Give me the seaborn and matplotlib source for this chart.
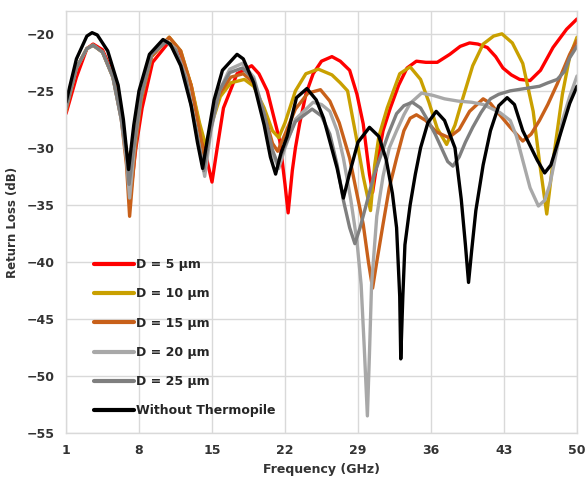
import matplotlib
matplotlib.use("Agg")
import matplotlib.pyplot as plt
import seaborn as sns
import pandas as pd

# ---------------- data ----------------
labels = ["D = 5 \u00b5m", "D = 10 \u00b5m", "D = 15 \u00b5m", "D = 20 \u00b5m",
          "D = 25 \u00b5m", "Without Thermopile"]
colors = ["#FF0000", "#C9A000", "#C8601A", "#A8A8A8", "#7F7F7F", "#000000"]

freq_d5 = [1, 2, 3, 3.6, 4.5, 5.5, 6.3, 6.8, 7.2, 7.7, 8.3, 9.3, 10.8, 12, 13, 14, 15.0, 15.5,
           16.1, 17.4, 18.8, 19.5, 20.3, 21.5, 22.0, 22.3, 22.7, 23.0, 23.4, 24.0, 24.7, 25.5,
           26.5, 27.3, 28.2, 28.9, 29.5, 30.1, 30.4, 30.8, 31.4, 32.1, 32.9, 33.7, 34.6, 35.5,
           36.6, 37.8, 38.8, 39.7, 40.5, 41.4, 42.2, 42.9, 43.7, 44.5, 45.5, 46.5, 47.7, 49.0, 50]
rl_d5 = [-27.0, -23.8, -21.3, -20.9, -21.4, -23.5, -27.0, -30.5, -34.0, -30.0, -26.5, -22.5,
         -20.8, -21.8, -24.5, -29.0, -33.0, -30.0, -26.5, -23.5, -22.8, -23.5, -25.0, -29.4,
         -33.2, -35.7, -32.0, -30.0, -27.9, -25.3, -23.5, -22.4, -22.0, -22.4, -23.2, -25.3,
         -27.9, -32.3, -33.9, -31.5, -28.5, -26.5, -24.5, -23.0, -22.4, -22.5, -22.5, -21.8,
         -21.1, -20.8, -20.9, -21.2, -22.0, -23.0, -23.6, -24.0, -24.1, -23.2, -21.2, -19.6, -18.7]

freq_d10 = [1, 2, 3, 3.6, 4.5, 5.5, 6.3, 7.0, 7.6, 8.2, 9.2, 10.9, 12, 13, 13.8, 14.4, 15.0,
            15.8, 16.8, 18.1, 19, 20, 20.8, 21.4, 22, 23, 24, 25.2, 26.5, 27.3, 28.0, 28.9,
            29.5, 30.2, 30.6, 31.0, 31.8, 33.0, 34.0, 35.0, 35.8, 36.6, 37.5, 38.3, 39.0, 40.0,
            41.0, 42.0, 42.8, 43.8, 44.8, 45.8, 46.4, 47.1, 47.7, 48.6, 49.3, 50]
rl_d10 = [-26.5, -23.0, -21.3, -21.0, -21.6, -23.8, -27.3, -31.5, -29.0, -25.8, -22.0, -20.3,
          -21.5, -24.5, -27.8, -29.8, -27.8, -25.5, -24.3, -24.0, -24.6, -26.5, -28.5, -29.1,
          -27.8, -25.0, -23.5, -23.1, -23.6, -24.3, -25.0, -29.4, -32.5, -35.5, -31.5, -29.0,
          -26.5, -23.5, -22.9, -24.0, -26.0, -28.3, -29.7, -28.0, -25.8, -22.8, -20.9, -20.2,
          -20.0, -20.8, -22.6, -26.8, -31.2, -35.8, -31.2, -25.3, -22.0, -20.3]

freq_d15 = [1, 2, 3, 3.6, 4.5, 5.5, 6.3, 6.8, 7.1, 7.6, 8.2, 9.2, 10.9, 12, 13, 13.8, 14.3,
            14.9, 15.7, 16.8, 18.0, 19, 20, 20.8, 21.3, 22, 23, 24.2, 25.4, 26.3, 27.2, 28.2,
            29.0, 29.5, 30.0, 30.4, 30.8, 31.4, 32.0, 32.7, 33.4, 34.0, 34.6, 35.5, 36.5, 37.7,
            38.7, 39.7, 41.0, 41.7, 42.5, 43.6, 44.8, 45.6, 46.4, 47.2, 48.1, 49.3, 50]
rl_d15 = [-26.8, -23.0, -21.3, -21.0, -21.6, -23.8, -27.5, -31.5, -36.0, -30.5, -25.8, -22.0,
          -20.3, -21.5, -24.6, -28.5, -31.0, -28.0, -25.3, -23.8, -23.5, -24.3, -27.0, -29.6,
          -30.3, -28.8, -26.6, -25.2, -24.9, -25.9, -27.8, -30.9, -34.5, -36.7, -40.0, -42.3,
          -40.0, -36.7, -33.5, -30.9, -28.5, -27.4, -27.1, -27.6, -28.6, -29.1, -28.4, -26.8,
          -25.7, -26.1, -27.0, -28.2, -29.4, -28.8, -27.6, -26.2, -24.4, -21.8, -20.6]

freq_d20 = [1, 2, 3, 3.6, 4.5, 5.5, 6.3, 6.8, 7.1, 7.6, 8.2, 9.2, 10.6, 11.5, 12.5, 13.5,
            14.3, 14.9, 15.7, 16.7, 17.9, 19, 20, 20.8, 21.4, 22, 23, 24.7, 25.5, 26.3, 27.0,
            27.6, 28.3, 28.9, 29.3, 29.6, 29.9, 30.1, 30.3, 30.8, 31.4, 32.0, 32.7, 33.4, 34.0,
            35.1, 36.2, 37.3, 38.6, 39.9, 41.0, 41.7, 42.6, 43.6, 44.2, 44.8, 45.5, 46.3, 46.9,
            47.4, 48.0, 48.6, 49.3, 50]
rl_d20 = [-26.5, -23.0, -21.3, -21.0, -21.6, -23.8, -27.5, -31.0, -34.4, -29.5, -25.5, -21.8,
          -20.6, -21.3, -23.8, -28.5, -32.5, -28.5, -25.0, -23.1, -22.6, -23.8, -27.0, -30.5,
          -31.8, -30.0, -27.5, -26.0, -26.2, -26.8, -28.5, -30.9, -34.5, -38.2, -42.0, -47.5,
          -53.5, -48.0, -42.0, -36.0, -32.5, -30.0, -28.5, -27.1, -26.1, -25.2, -25.4, -25.7,
          -25.9, -26.0, -26.2, -26.5, -26.9, -27.6, -29.0, -31.1, -33.5, -35.1, -34.6, -33.2,
          -30.5, -27.6, -25.5, -23.7]

freq_d25 = [1, 2, 3, 3.6, 4.5, 5.5, 6.3, 6.8, 7.05, 7.6, 8.2, 9.2, 10.6, 11.5, 12.5, 13.5,
            14.2, 14.9, 15.7, 16.7, 17.9, 19, 20, 20.8, 21.3, 22, 23, 24.6, 25.5, 26.3, 27.0,
            27.6, 28.2, 28.7, 29.2, 29.9, 30.5, 31.1, 31.9, 32.7, 33.4, 34.2, 35.0, 35.7, 36.4,
            37.0, 37.6, 38.1, 38.7, 39.3, 40.0, 40.8, 41.7, 42.5, 43.6, 45.0, 46.4, 47.2, 48.1,
            48.8, 49.3, 50]
rl_d25 = [-26.5, -23.0, -21.3, -21.0, -21.6, -23.8, -27.5, -30.5, -33.2, -29.3, -25.5, -21.8,
          -20.7, -21.4, -24.0, -28.5, -32.0, -28.3, -25.0, -23.4, -23.0, -24.0, -27.0, -30.2,
          -31.4, -29.8, -27.7, -26.6, -27.2, -28.8, -31.5, -34.6, -37.0, -38.4, -37.0, -34.6,
          -32.5, -30.9, -28.8, -27.0, -26.3, -26.0, -26.5, -27.6, -28.8, -30.0, -31.2, -31.6,
          -30.8, -29.5, -28.2, -26.9, -25.7, -25.3, -25.0, -24.8, -24.6, -24.3, -24.0, -23.3,
          -22.1, -21.1]

freq_ref = [1, 2, 3, 3.5, 4, 5, 6, 6.5, 7.0, 7.5, 8, 9, 10.3, 11, 12, 13, 13.6, 14.1, 14.6,
            15.2, 16, 17.4, 18, 19, 20, 20.6, 21.1, 21.6, 22.2, 23.1, 24.1, 25.0, 25.7, 27.0,
            27.6, 28.2, 29.0, 30.1, 31.0, 31.7, 32.3, 32.7, 33.0, 33.1, 33.3, 33.5, 34.0, 34.5,
            35.0, 35.7, 36.5, 37.3, 38.3, 38.9, 39.3, 39.6, 39.9, 40.3, 41.0, 41.7, 42.5, 43.3,
            44.0, 44.8, 46.2, 46.9, 47.5, 48.1, 49.3, 50]
rl_ref = [-26.0, -22.2, -20.2, -19.9, -20.1, -21.5, -24.5, -27.5, -31.9, -28.0, -25.0, -21.8,
          -20.5, -20.9, -22.8, -26.3, -29.5, -31.8, -29.0, -25.8, -23.2, -21.8, -22.2, -24.3,
          -28.0, -30.8, -32.3, -30.5, -29.0, -25.6, -24.8, -25.8, -27.4, -31.8, -34.4, -32.2,
          -29.5, -28.2, -29.0, -31.0, -34.0, -37.0, -43.0, -48.5, -43.0, -38.5, -35.0, -32.3,
          -30.0, -27.8, -26.8, -27.6, -30.0, -34.5, -38.5, -41.8, -39.0, -35.5, -31.5, -28.5,
          -26.3, -25.6, -26.2, -28.5, -31.1, -32.2, -31.5, -29.7, -26.1, -24.6]

x_ticks = [1, 8, 15, 22, 29, 36, 43, 50]
y_ticks = [-55, -50, -45, -40, -35, -30, -25, -20]

# ---------------- build long table ----------------
series = [(freq_d5, rl_d5), (freq_d10, rl_d10), (freq_d15, rl_d15),
          (freq_d20, rl_d20), (freq_d25, rl_d25), (freq_ref, rl_ref)]
frames = []
for lab, (f, r) in zip(labels, series):
    frames.append(pd.DataFrame({"Frequency": f, "RL": r, "Series": lab}))
df = pd.concat(frames, ignore_index=True)

sns.set_theme(style="white")
plt.rcParams["font.family"] = ["DejaVu Sans"]

fig = plt.figure(figsize=(5.87, 4.82), dpi=100)
ax = fig.add_axes([66 / 587, 1 - 433 / 482, 511 / 587, 422 / 482])

sns.lineplot(data=df, x="Frequency", y="RL", hue="Series", hue_order=labels,
             palette=dict(zip(labels, colors)), estimator=None, sort=False,
             linewidth=2.4, ax=ax)

ax.set_xlim(1, 50)
ax.set_ylim(-55, -18)
ax.set_xticks(x_ticks)
ax.set_yticks(y_ticks)
ax.grid(True, color="#D9D9D9", linewidth=1.0)
ax.set_axisbelow(True)
for s in ax.spines.values():
    s.set_color("#D9D9D9")
    s.set_linewidth(1.0)
ax.tick_params(axis="both", length=0, labelsize=9, colors="#333333", pad=8)
for t in ax.get_xticklabels() + ax.get_yticklabels():
    t.set_fontweight("bold")

ax.set_xlabel("Frequency (GHz)", fontsize=9, fontweight="bold", color="#333333", labelpad=4)
ax.set_ylabel("Return Loss (dB)", fontsize=8.5, fontweight="bold", color="#333333", labelpad=6)

leg = ax.legend(loc="lower left", bbox_to_anchor=(0.045, 0.025), frameon=False,
                prop={"weight": "bold", "size": 9}, labelspacing=1.3,
                handlelength=3.2, handletextpad=0.15, borderaxespad=0)
for h in leg.get_lines():
    h.set_linewidth(3)

fig.savefig("out.png", dpi=100)
